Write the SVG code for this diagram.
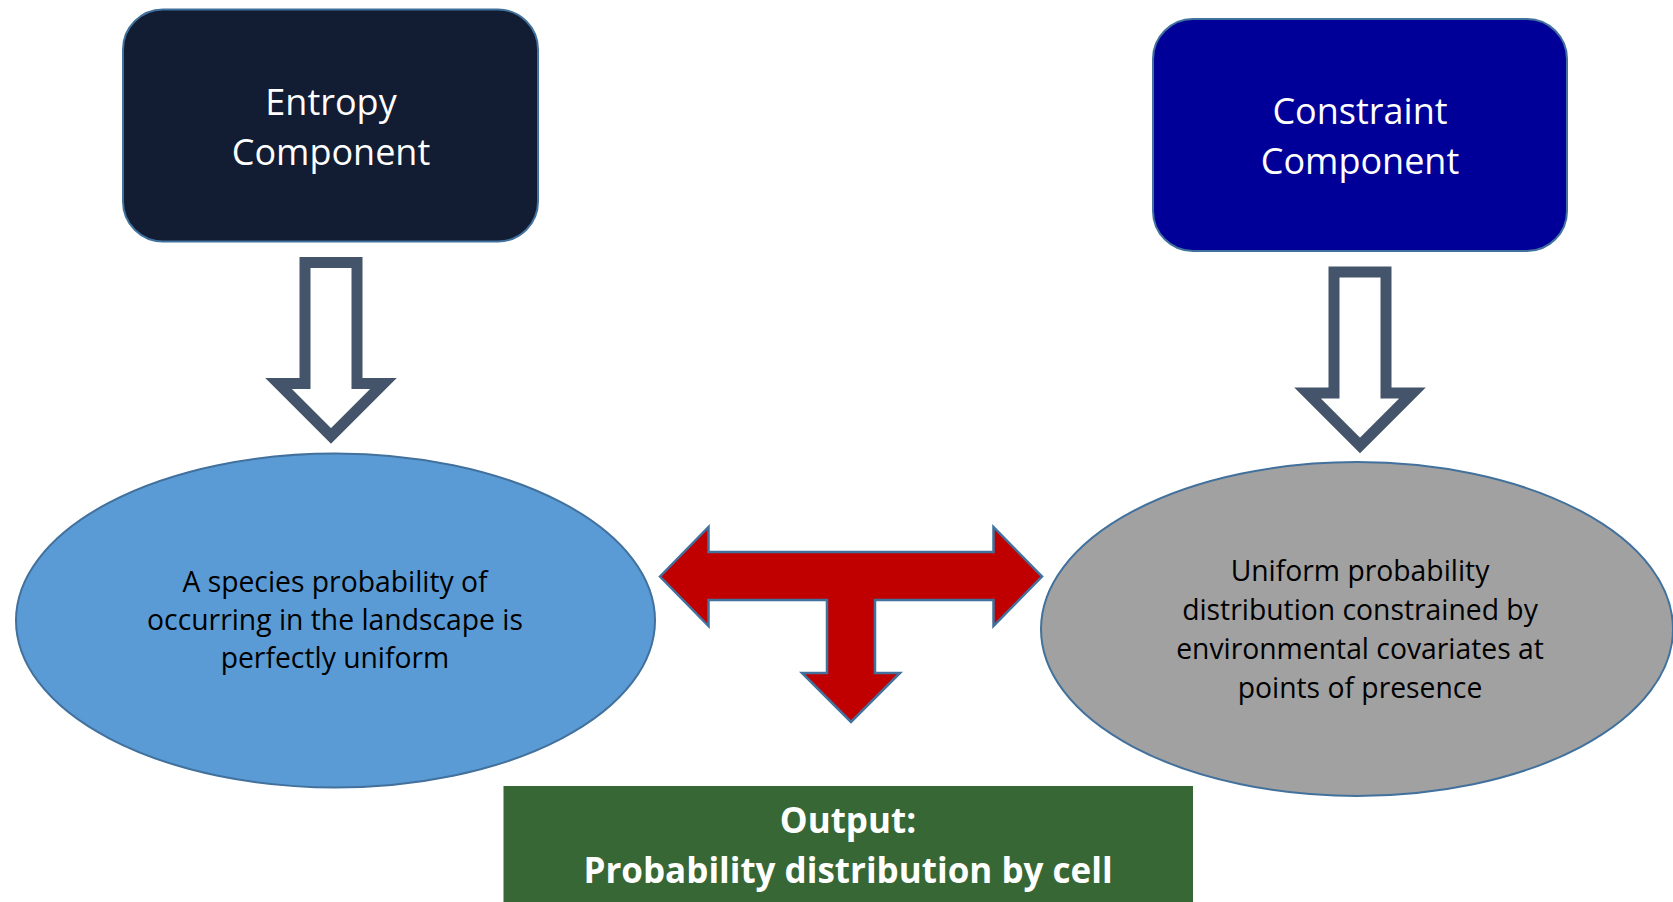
<svg xmlns="http://www.w3.org/2000/svg" width="1673" height="902" viewBox="0 0 1673 902">
  <style>
    .box { stroke: #41719c; stroke-width: 2; }
    .oval { stroke: #41719c; stroke-width: 2; }
    .title { font-family: "Open Sans", "Liberation Sans", sans-serif; font-size: 36px; fill: #ffffff; text-anchor: middle; }
    .body { font-family: "Open Sans", "Liberation Sans", sans-serif; font-size: 28.3px; fill: #000000; text-anchor: middle; }
    .out { font-family: "Open Sans", "Liberation Sans", sans-serif; font-size: 35px; font-weight: bold; fill: #ffffff; text-anchor: middle; }
    .hollow { fill: #ffffff; stroke: #44546a; stroke-width: 11; stroke-linejoin: miter; stroke-miterlimit: 4; }
    .tee { fill: #c00000; stroke: #41719c; stroke-width: 2.5; stroke-linejoin: miter; }
  </style>
  <rect width="1673" height="902" fill="#ffffff"/>

  <!-- top rounded boxes -->
  <g id="entropy">
    <rect class="box" x="123" y="9.5" width="415" height="232" rx="40" ry="40" fill="#121c32"/>
    <text class="title" x="331" y="115">Entropy</text>
    <text class="title" x="331" y="165">Component</text>
  </g>
  <g id="constraint">
    <rect class="box" x="1153" y="19" width="414" height="232" rx="40" ry="40" fill="#000099"/>
    <text class="title" x="1360" y="124">Constraint</text>
    <text class="title" x="1360" y="174">Component</text>
  </g>

  <!-- ellipses -->
  <g id="uniform">
    <ellipse class="oval" cx="335.5" cy="620.5" rx="319.5" ry="167" fill="#5b9bd5"/>
    <text class="body" x="335" y="592">A species probability of</text>
    <text class="body" x="335" y="630">occurring in the landscape is</text>
    <text class="body" x="335" y="668">perfectly uniform</text>
  </g>
  <g id="constrained">
    <ellipse class="oval" cx="1357" cy="629" rx="316" ry="167" fill="#a1a1a1"/>
    <text class="body" x="1360" y="581">Uniform probability</text>
    <text class="body" x="1360" y="620">distribution constrained by</text>
    <text class="body" x="1360" y="659">environmental covariates at</text>
    <text class="body" x="1360" y="698">points of presence</text>
  </g>

  <!-- output box -->
  <g id="output">
    <rect x="503.5" y="786" width="689.5" height="120" fill="#376735"/>
    <text class="out" x="848" y="833">Output:</text>
    <text class="out" x="848" y="883">Probability distribution by cell</text>
  </g>

  <!-- connectors -->
  <g id="connectors">
    <path class="hollow" d="M305,262.5 H357 V383.5 H383.5 L331,436 L278.5,383.5 H305 Z"/>
    <path class="hollow" d="M1334,272 H1386 V393 H1412.5 L1360,445.5 L1307.5,393 H1334 Z"/>
    <path class="tee" d="M660,576.5 L708.5,527 V552 H993.5 V527 L1042,576.5 L993.5,626 V600 H875 V673 H900 L851,722 L802,673 H827 V600 H708.5 V626 Z"/>
  </g>
</svg>
